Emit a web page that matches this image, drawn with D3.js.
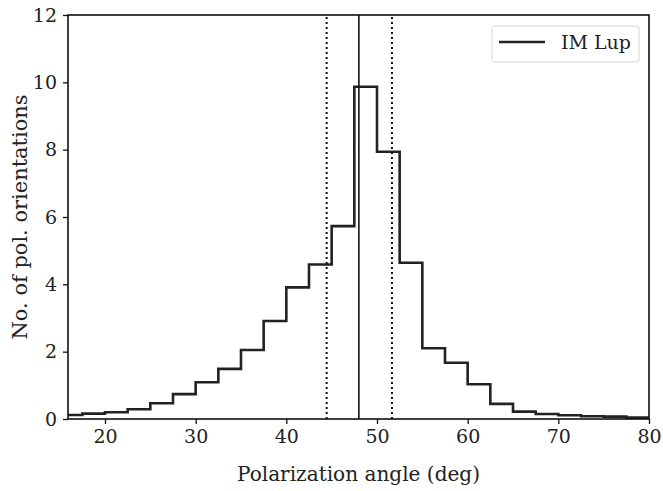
<!DOCTYPE html>
<html>
<head>
<meta charset="utf-8">
<script src="https://cdn.jsdelivr.net/npm/d3@7"></script>
<style>
body { margin: 0; background: #fff; }
svg text { fill: #222; }
</style>
</head>
<body>
<svg id="chart" width="663" height="491"></svg>
<script>
// histogram bin edges (deg) and counts per bin
var binEdges = [15, 17.5, 20, 22.5, 25, 27.5, 30, 32.5, 35, 37.5, 40, 42.5, 45, 47.5,
                50, 52.5, 55, 57.5, 60, 62.5, 65, 67.5, 70, 72.5, 75, 77.5, 80];
var counts = [0.12, 0.16, 0.20, 0.29, 0.47, 0.74, 1.09, 1.49, 2.05, 2.91, 3.91, 4.59, 5.73,
              9.87, 7.94, 4.64, 2.10, 1.67, 1.03, 0.45, 0.22, 0.15, 0.11, 0.08, 0.07, 0.04];
var meanAngle = 48.0;
var errAngles = [44.45, 51.65];
var xTicks = [20, 30, 40, 50, 60, 70, 80];
var yTicks = [0, 2, 4, 6, 8, 10, 12];
var seriesName = "IM Lup";

var serif = "'DejaVu Serif', serif";
var svg = d3.select("#chart");
var margin = {left: 68, right: 14, top: 15, bottom: 72};
var W = +svg.attr("width"), H = +svg.attr("height");

var x = d3.scaleLinear().domain([15.92, 80]).range([margin.left, W - margin.right]);
var y = d3.scaleLinear().domain([0, 12]).range([H - margin.bottom, margin.top]);

svg.append("clipPath").attr("id", "plotclip")
	.append("rect")
		.attr("x", margin.left).attr("y", margin.top)
		.attr("width", W - margin.left - margin.right)
		.attr("height", H - margin.top - margin.bottom);

var plot = svg.append("g").attr("clip-path", "url(#plotclip)");

// step outline of the histogram
var stepPts = [[binEdges[0], 0]];
for (var i = 0; i < counts.length; i++)
{
	stepPts.push([binEdges[i], counts[i]]);
	stepPts.push([binEdges[i + 1], counts[i]]);
}
stepPts.push([binEdges[binEdges.length - 1], 0]);

plot.append("path")
	.attr("d", d3.line().x(function(d) { return x(d[0]); }).y(function(d) { return y(d[1]); })(stepPts))
	.style("fill", "none")
	.style("stroke", "#222")
	.style("stroke-width", 2.6)
	.style("stroke-linejoin", "miter");

plot.append("line")
	.attr("x1", x(meanAngle)).attr("x2", x(meanAngle))
	.attr("y1", y(0)).attr("y2", y(12))
	.style("stroke", "#111").style("stroke-width", 1.6);

plot.selectAll("line.err").data(errAngles).enter()
	.append("line")
		.attr("class", "err")
		.attr("x1", function(d) { return x(d); }).attr("x2", function(d) { return x(d); })
		.attr("y1", y(0)).attr("y2", y(12))
		.style("stroke", "#111").style("stroke-width", 2)
		.style("stroke-dasharray", "2,3");

// axes
var xAxis = svg.append("g")
	.attr("transform", "translate(0," + y(0) + ")")
	.call(d3.axisBottom(x).tickValues(xTicks).tickSize(5).tickPadding(6));
var yAxis = svg.append("g")
	.attr("transform", "translate(" + margin.left + ",0)")
	.call(d3.axisLeft(y).tickValues(yTicks).tickSize(5).tickPadding(6));

[xAxis, yAxis].forEach(function(a)
{
	a.attr("font-family", serif);
	a.select(".domain").remove();
	a.selectAll(".tick line").style("stroke", "#111").style("stroke-width", 1.3);
	a.selectAll(".tick text")
		.attr("font-family", serif)
		.style("font-size", "19px").style("fill", "#222");
});

svg.append("rect")
	.attr("x", margin.left).attr("y", margin.top)
	.attr("width", W - margin.left - margin.right)
	.attr("height", H - margin.top - margin.bottom)
	.style("fill", "none").style("stroke", "#111").style("stroke-width", 1.6);

svg.append("text")
	.attr("x", (margin.left + W - margin.right) / 2)
	.attr("y", 481)
	.attr("text-anchor", "middle")
	.attr("font-family", serif)
	.attr("textLength", 243)
	.attr("lengthAdjust", "spacingAndGlyphs")
	.style("font-size", "21px")
	.text("Polarization angle (deg)");

svg.append("text")
	.attr("transform", "translate(27,217) rotate(-90)")
	.attr("text-anchor", "middle")
	.attr("font-family", serif)
	.attr("textLength", 245)
	.attr("lengthAdjust", "spacingAndGlyphs")
	.style("font-size", "21px")
	.text("No. of pol. orientations");

// legend
var legend = svg.append("g");
legend.append("rect")
	.attr("x", 492).attr("y", 26).attr("width", 147).attr("height", 36)
	.attr("rx", 3)
	.style("fill", "#fff").style("fill-opacity", 0.8)
	.style("stroke", "#d6d6d6").style("stroke-width", 1);
legend.append("line")
	.attr("x1", 499).attr("x2", 545).attr("y1", 42).attr("y2", 42)
	.style("stroke", "#222").style("stroke-width", 2.6);
legend.append("text")
	.attr("x", 561).attr("y", 49)
	.attr("font-family", serif)
	.attr("textLength", 70)
	.attr("lengthAdjust", "spacingAndGlyphs")
	.style("font-size", "19px")
	.text(seriesName);
</script>
</body>
</html>
